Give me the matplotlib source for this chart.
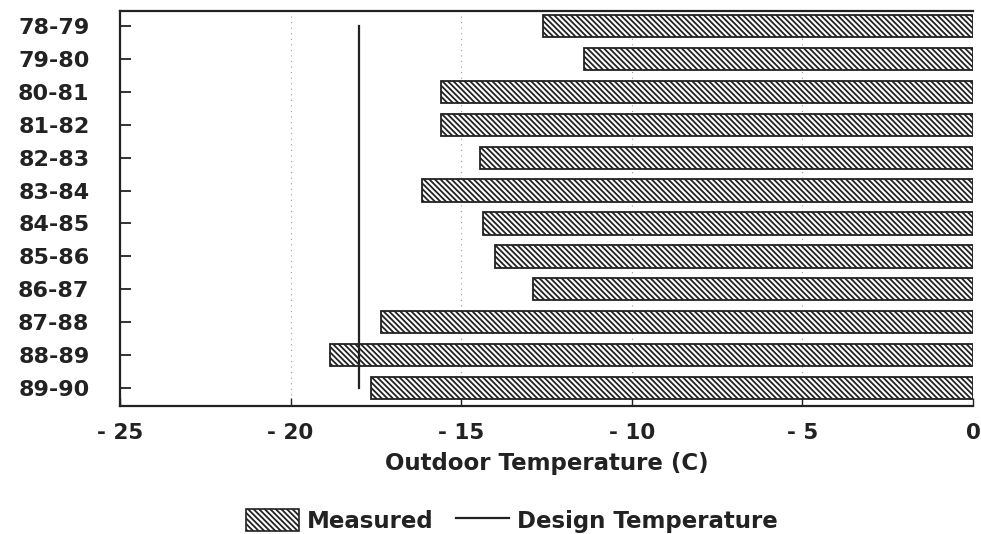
import numpy as np
import matplotlib.pyplot as plt
from matplotlib.patches import Patch
from matplotlib.lines import Line2D

# winter seasons and measured minimum outdoor temperature (C)
seasons = ["78-79", "79-80", "80-81", "81-82", "82-83", "83-84",
           "84-85", "85-86", "86-87", "87-88", "88-89", "89-90"]
measured = [-12.6, -11.4, -15.6, -15.6, -14.45, -16.15,
            -14.35, -14.0, -12.9, -17.35, -18.85, -17.65]
design_temp = -18.0
xticks = [-25, -20, -15, -10, -5, 0]

plt.rcParams['font.family'] = ['DejaVu Sans']
plt.rcParams['hatch.linewidth'] = 1.3

fig = plt.figure(figsize=(9.81, 5.34), dpi=100)
ax = fig.add_axes([0.1223, 0.2397, 0.8695, 0.7397])

y = np.arange(len(seasons))
hatch = '\\' * 6
ax.barh(y, measured, height=0.68, color='white', edgecolor='#222222',
        hatch=hatch, linewidth=1.3, zorder=3)

# faint broken grid lines
for xv in xticks[1:-1]:
    ax.axvline(xv, color='#999999', lw=0.8, ls=(0, (1, 4)), zorder=1)

ax.plot([design_temp, design_temp], [y[0], y[-1]], color='#222222', lw=1.6, zorder=4)

ax.set_xlim(-25, 0)
ax.set_ylim(len(seasons) - 0.45, -0.46)
ax.set_yticks(y)
ax.set_yticklabels(seasons)
ax.set_xticks(xticks)
ax.set_xticklabels([str(v).replace('-', '- ') if v < 0 else str(v) for v in xticks])

ax.tick_params(axis='y', direction='in', length=8, width=1.3, pad=22,
               labelsize=16, colors='#222222')
ax.tick_params(axis='x', direction='in', length=6, width=1.0, pad=12,
               labelsize=15.5, colors='#222222')
for lab in ax.get_yticklabels() + ax.get_xticklabels():
    lab.set_fontweight('bold')

for side in ['left', 'top', 'bottom']:
    ax.spines[side].set_linewidth(1.6)
    ax.spines[side].set_color('#222222')
ax.spines['right'].set_visible(False)

ax.set_xlabel("Outdoor Temperature (C)", fontsize=16.5, fontweight='bold',
              color='#222222', labelpad=7)

handles = [Patch(facecolor='white', edgecolor='#222222', hatch=hatch, lw=1.2),
           Line2D([0], [0], color='#222222', lw=1.6)]
fig.legend(handles, ["Measured", "Design Temperature"], loc='center',
           bbox_to_anchor=(0.522, 0.025), ncol=2, frameon=False,
           prop={'size': 16.5, 'weight': 'bold'}, handlelength=2.3,
           handleheight=1.1, columnspacing=1.0, handletextpad=0.35)
for t in fig.legends[0].get_texts():
    t.set_color('#222222')

fig.savefig("out.png", dpi=100)
